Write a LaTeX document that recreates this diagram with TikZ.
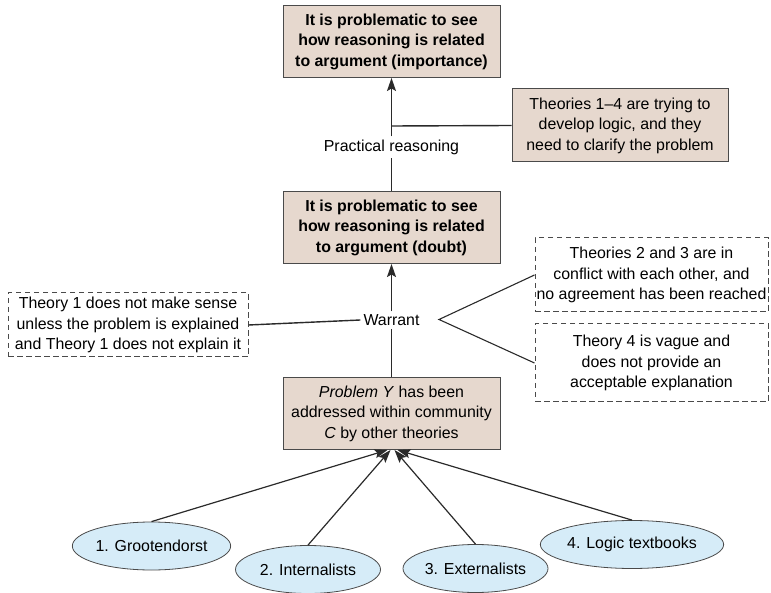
\documentclass[tikz,border=0pt]{standalone}
\usepackage{fontspec}
\setmainfont{Liberation Sans}
\usetikzlibrary{arrows.meta,shapes.geometric}
\definecolor{claimfill}{HTML}{E6D8CE}
\definecolor{sourcefill}{HTML}{D6ECF8}
\definecolor{edge}{HTML}{2A2A2A}
\definecolor{frame}{HTML}{4A4A4A}
\begin{document}
\begin{tikzpicture}[x=1pt,y=-1pt,
  every node/.style={font=\fontsize{15.9}{20.5}\selectfont, align=center, inner sep=0pt},
  claim/.style={draw=frame, line width=1pt, fill=claimfill, minimum width=217pt, minimum height=72pt},
  note/.style={draw=frame, line width=1pt, dash pattern=on 5.5pt off 3.5pt, fill=white},
  source/.style={ellipse, draw=frame, line width=0.8pt, fill=sourcefill, minimum width=145pt, minimum height=48pt},
  link/.style={draw=edge, line width=1.4pt},
  arrowlink/.style={link, -{Stealth[length=13pt,width=9pt,inset=2.5pt]}},
  label/.style={fill=white, inner sep=3pt}
]
\useasboundingbox (0,0) rectangle (771,593);

% main chain of claims
\node[claim, font=\bfseries\fontsize{15.9}{20.5}\selectfont] (top) at (391.5,41.5)
  {It is problematic to see\\how reasoning is related\\to argument (importance)};
\node[claim, font=\bfseries\fontsize{15.9}{20.5}\selectfont] (doubt) at (391.5,227.5)
  {It is problematic to see\\how reasoning is related\\to argument (doubt)};
\node[claim] (prob) at (391.5,413.5)
  {\textit{Problem Y} has been\\addressed within community\\\textit{C} by other theories};

% labels on the vertical links
\node[label] (pr) at (391.5,147) {Practical reasoning};
\node[label] (war) at (391.5,320) {Warrant};

% side boxes
\node[claim, minimum width=216pt, minimum height=73pt] (dev) at (620,125.5)
  {Theories 1--4 are trying to\\develop logic, and they\\need to clarify the problem};
\node[note, minimum width=240pt, minimum height=64pt] (t1) at (128,325)
  {Theory 1 does not make sense\\unless the problem is explained\\and Theory 1 does not explain it};
\node[note, minimum width=233pt, minimum height=74pt] (t23) at (651.5,275)
  {Theories 2 and 3 are in\\conflict with each other, and\\no agreement has been reached};
\node[note, minimum width=233pt, minimum height=78pt] (t4) at (651.5,363)
  {Theory 4 is vague and\\does not provide an\\acceptable explanation};

% theories
\node[source] (g) at (151.5,546) {1. Grootendorst};
\node[source] (i) at (308,569.5) {2. Internalists};
\node[source] (e) at (475.5,568.5) {3. Externalists};
\node[source] (l) at (632,544.5) {4. Logic textbooks};

% vertical argument chain
\draw[link] (doubt.north) -- (pr.south);
\draw[arrowlink] (pr.north) -- (top.south);
\draw[link] (prob.north) -- (war.south);
\draw[arrowlink] (war.north) -- (doubt.south);

% side connections
\coordinate (devj) at (391.5,126);
\draw[link] (devj) -- (dev.west);
\draw[link] (t1.east) -- (war.west);
\coordinate (fork) at (439,319.5);
\draw[link, line width=1.1pt] (t23.west) -- (fork) -- (t4.west);

% theories feeding the problem
\draw[arrowlink, line width=1.2pt] (g.north) -- ([xshift=-4pt]prob.south);
\draw[arrowlink, line width=1.2pt] (i.north) -- ([xshift=-1pt]prob.south);
\draw[arrowlink, line width=1.2pt] (e.north) -- ([xshift=3pt]prob.south);
\draw[arrowlink, line width=1.2pt] (l.north) -- ([xshift=6pt]prob.south);
\end{tikzpicture}
\end{document}
